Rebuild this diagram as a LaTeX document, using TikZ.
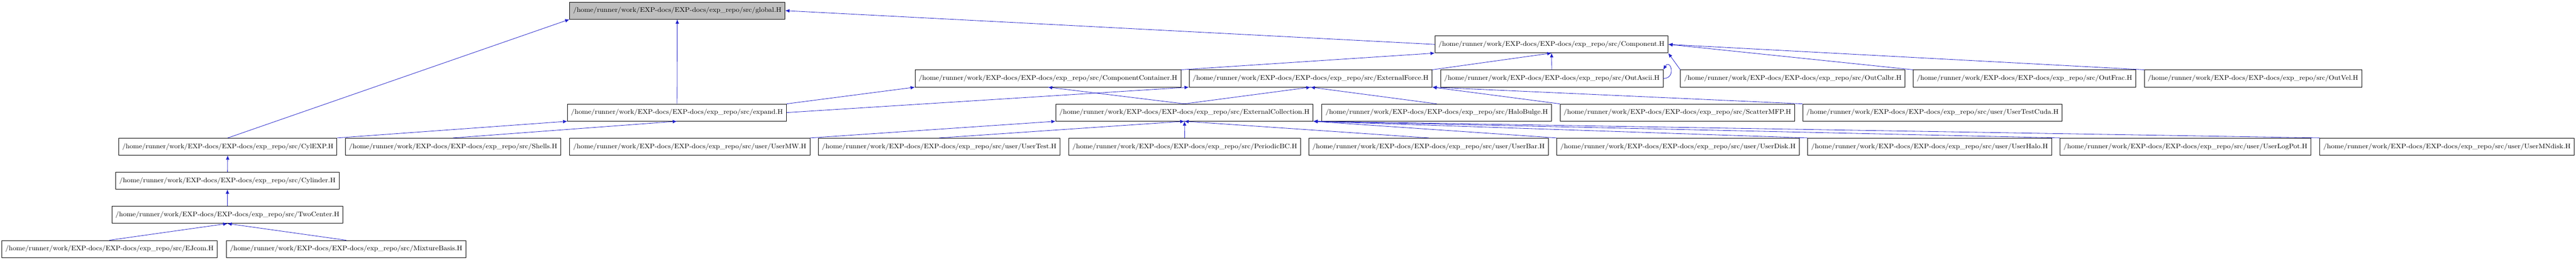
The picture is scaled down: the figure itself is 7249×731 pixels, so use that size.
\documentclass[tikz,border=0pt]{standalone}
\usepackage{graphicx}
\usetikzlibrary{arrows.meta}
\definecolor{edgeblue}{RGB}{30, 30, 200}
\definecolor{rootgray}{RGB}{191, 191, 191}
\tikzstyle{file} = [rectangle, draw, semithick, minimum height=24pt, inner sep=0pt]
\tikzstyle{root} = [file, fill=rootgray]
\tikzstyle{line} = [draw=edgeblue, semithick, -{Latex[length=6pt, width=5pt]}]
\newcommand{\src}{/home/runner/work/EXP-docs/EXP-docs/exp\_repo/src/}
\newcommand{\fname}[2]{\resizebox{#1pt}{7pt}{\src #2}}

\begin{document}
\begin{tikzpicture}[x=0.5pt, y=-0.5pt]
  \useasboundingbox (0,0) rectangle (7249,731);
  % top levels
  \node [root, minimum width=303pt] (global) at (1906,30) {\fname{293}{global.H}};
  \node [file, minimum width=328pt] (component) at (4366,125) {\fname{318}{Component.H}};
  \node [file, minimum width=374pt] (container) at (2949,221) {\fname{364}{ComponentContainer.H}};
  \node [file, minimum width=342pt] (extforce) at (3688,221) {\fname{332}{ExternalForce.H}};
  \node [file, minimum width=313pt] (outascii) at (4367,221) {\fname{303}{OutAscii.H}};
  \node [file, minimum width=316pt] (outcalbr) at (5045,221) {\fname{306}{OutCalbr.H}};
  \node [file, minimum width=313pt] (outfrac) at (5697,221) {\fname{303}{OutFrac.H}};
  \node [file, minimum width=306pt] (outvel) at (6340,221) {\fname{296}{OutVel.H}};
  \node [file, minimum width=308pt] (expand) at (1905,317) {\fname{298}{expand.H}};
  \node [file, minimum width=362pt] (extcoll) at (3333,317) {\fname{352}{ExternalCollection.H}};
  \node [file, minimum width=323pt] (halobulge) at (4043,317) {\fname{313}{HaloBulge.H}};
  \node [file, minimum width=330pt] (scatter) at (4720,317) {\fname{320}{ScatterMFP.H}};
  \node [file, minimum width=365pt] (testcuda) at (5438,317) {\fname{355}{user/UserTestCuda.H}};
  % fifth row
  \node [file, minimum width=307pt] (cylexp) at (641,413) {\fname{297}{CylEXP.H}};
  \node [file, minimum width=303pt] (shells) at (1275,413) {\fname{293}{Shells.H}};
  \node [file, minimum width=338pt] (usermw) at (1941,413) {\fname{328}{user/UserMW.H}};
  \node [file, minimum width=340pt] (usertest) at (2643,413) {\fname{330}{user/UserTest.H}};
  \node [file, minimum width=326pt] (periodic) at (3334,413) {\fname{316}{PeriodicBC.H}};
  \node [file, minimum width=337pt] (userbar) at (4020,413) {\fname{327}{user/UserBar.H}};
  \node [file, minimum width=341pt] (userdisk) at (4722,413) {\fname{331}{user/UserDisk.H}};
  \node [file, minimum width=343pt] (userhalo) at (5430,413) {\fname{333}{user/UserHalo.H}};
  \node [file, minimum width=353pt] (userlogpot) at (6150,413) {\fname{343}{user/UserLogPot.H}};
  \node [file, minimum width=358pt] (usermndisk) at (6886,413) {\fname{348}{user/UserMNdisk.H}};
  % lower chain
  \node [file, minimum width=314pt] (cylinder) at (640,509) {\fname{304}{Cylinder.H}};
  \node [file, minimum width=325pt] (twocenter) at (640,605) {\fname{315}{TwoCenter.H}};
  \node [file, minimum width=303pt] (ejcom) at (308,701) {\fname{293}{EJcom.H}};
  \node [file, minimum width=337pt] (mixture) at (974,701) {\fname{327}{MixtureBasis.H}};

  \path [line] (component.west) -- (global.east);
  \path [line] (expand) -- (global);
  \path [line] (cylexp.north) -- (global.south west);
  \path [line] (cylexp.north east) -- (expand.south west);
  \path [line] (shells.north) -- (expand.south);
  \path [line] (expand.north east) -- (container.south west);
  \path [line] (expand.east) -- (extforce.south west);
  \path [line] (container.north east) -- (component.south west);
  \path [line] (extforce.north east) -- (component.south);
  \path [line] (outascii) -- (component);
  \path [line] (outascii.east) to [out=0, in=60, looseness=4] (outascii.north east);
  \path [line] (outcalbr.north west) -- (component.south east);
  \path [line] (outfrac.north west) -- (component.east);
  \path [line] (outvel.north west) -- (component.east);
  \path [line] (extcoll.north) -- (container.south);
  \path [line] (extcoll.north) -- (extforce.south);
  \path [line] (halobulge.north) -- (extforce.south);
  \path [line] (scatter.north west) -- (extforce.south east);
  \path [line] (testcuda.north west) -- (extforce.south east);
  \path [line] (usermw.north east) -- (extcoll.south west);
  \path [line] (usertest.north) -- (extcoll.south);
  \path [line] (periodic) -- (extcoll);
  \path [line] (userbar.north) -- (extcoll.south);
  \path [line] (userdisk.north west) -- (extcoll.south east);
  \path [line] (userhalo.north west) -- (extcoll.south east);
  \path [line] (userlogpot.north west) -- (extcoll.south east);
  \path [line] (usermndisk.north west) -- (extcoll.south east);
  \path [line] (cylinder) -- (cylexp);
  \path [line] (twocenter) -- (cylinder);
  \path [line] (ejcom.north) -- (twocenter.south);
  \path [line] (mixture.north) -- (twocenter.south);
\end{tikzpicture}
\end{document}
